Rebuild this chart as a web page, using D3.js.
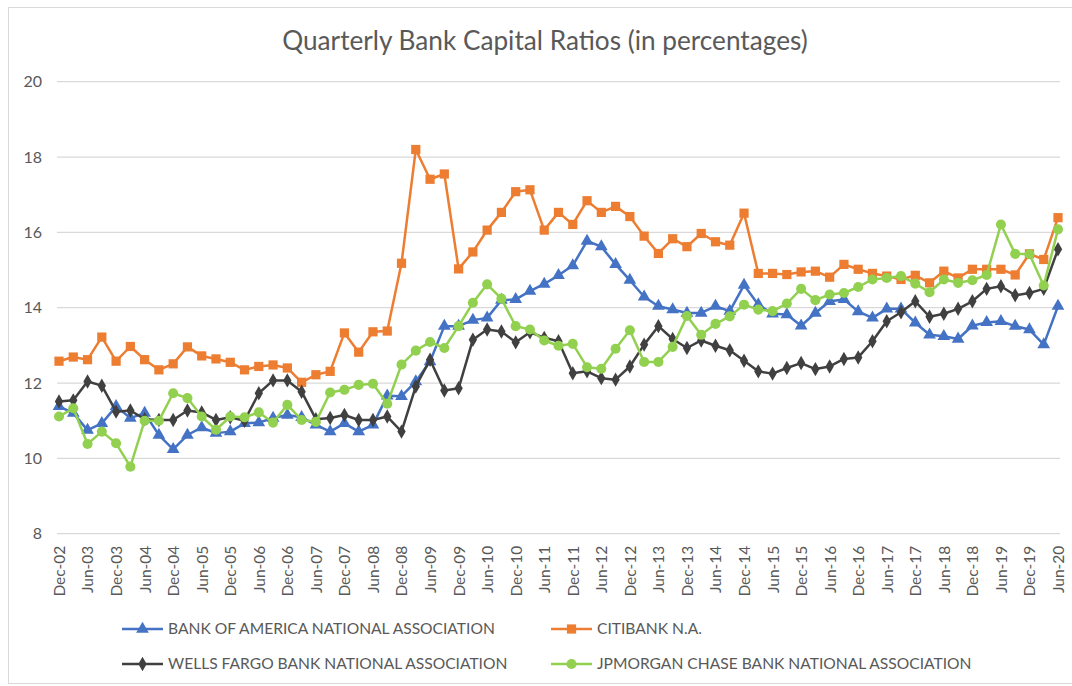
<!DOCTYPE html>
<html><head><meta charset="utf-8">
<script src="https://cdn.jsdelivr.net/npm/d3@7"></script>
<style>body{margin:0;background:#fff;} text{font-family:Lato,"Open Sans",sans-serif;fill:#595959;}</style>
</head><body>
<svg id="chart" width="1072" height="686"></svg>
<script>
const categories = ["Dec-02","Mar-03","Jun-03","Sep-03","Dec-03","Mar-04","Jun-04","Sep-04","Dec-04","Mar-05","Jun-05","Sep-05","Dec-05","Mar-06","Jun-06","Sep-06","Dec-06","Mar-07","Jun-07","Sep-07","Dec-07","Mar-08","Jun-08","Sep-08","Dec-08","Mar-09","Jun-09","Sep-09","Dec-09","Mar-10","Jun-10","Sep-10","Dec-10","Mar-11","Jun-11","Sep-11","Dec-11","Mar-12","Jun-12","Sep-12","Dec-12","Mar-13","Jun-13","Sep-13","Dec-13","Mar-14","Jun-14","Sep-14","Dec-14","Mar-15","Jun-15","Sep-15","Dec-15","Mar-16","Jun-16","Sep-16","Dec-16","Mar-17","Jun-17","Sep-17","Dec-17","Mar-18","Jun-18","Sep-18","Dec-18","Mar-19","Jun-19","Sep-19","Dec-19","Mar-20","Jun-20"];
const tickLabels = ["Dec-02","Jun-03","Dec-03","Jun-04","Dec-04","Jun-05","Dec-05","Jun-06","Dec-06","Jun-07","Dec-07","Jun-08","Dec-08","Jun-09","Dec-09","Jun-10","Dec-10","Jun-11","Dec-11","Jun-12","Dec-12","Jun-13","Dec-13","Jun-14","Dec-14","Jun-15","Dec-15","Jun-16","Dec-16","Jun-17","Dec-17","Jun-18","Dec-18","Jun-19","Dec-19","Jun-20"];
const yTicks = [8,10,12,14,16,18,20];
const seriesNames = ["BANK OF AMERICA NATIONAL ASSOCIATION","CITIBANK N.A.","WELLS FARGO BANK NATIONAL ASSOCIATION","JPMORGAN CHASE BANK NATIONAL ASSOCIATION"];
const bankOfAmerica = [11.38,11.2,10.75,10.93,11.38,11.07,11.2,10.62,10.24,10.62,10.82,10.67,10.71,10.93,10.95,11.07,11.15,11.09,10.89,10.71,10.93,10.71,10.89,11.66,11.65,12.04,12.57,13.51,13.51,13.67,13.73,14.2,14.22,14.44,14.63,14.86,15.12,15.77,15.62,15.15,14.73,14.29,14.04,13.95,13.86,13.86,14.04,13.91,14.6,14.08,13.84,13.82,13.52,13.86,14.17,14.22,13.9,13.73,13.97,13.97,13.6,13.28,13.24,13.17,13.52,13.61,13.64,13.51,13.42,13.02,14.04];
const citibank = [12.58,12.69,12.62,13.22,12.58,12.97,12.62,12.35,12.51,12.96,12.72,12.64,12.55,12.35,12.44,12.48,12.4,12.02,12.22,12.31,13.33,12.82,13.36,13.38,15.18,18.2,17.41,17.55,15.03,15.48,16.06,16.53,17.08,17.13,16.06,16.53,16.21,16.84,16.53,16.69,16.42,15.9,15.44,15.83,15.62,15.97,15.75,15.66,16.51,14.91,14.91,14.88,14.95,14.97,14.81,15.15,15.02,14.91,14.84,14.75,14.86,14.66,14.97,14.79,15.02,15.02,15.02,14.87,15.43,15.28,16.39];
const wellsFargo = [11.51,11.54,12.04,11.93,11.24,11.27,11.04,11.02,11.02,11.27,11.22,11.02,11.09,11.0,11.73,12.07,12.07,11.77,11.04,11.07,11.15,11.02,11.02,11.11,10.71,11.91,12.62,11.8,11.86,13.15,13.42,13.37,13.08,13.35,13.2,13.11,12.26,12.31,12.13,12.09,12.44,13.02,13.51,13.17,12.93,13.13,12.99,12.87,12.59,12.31,12.25,12.4,12.53,12.37,12.44,12.64,12.68,13.11,13.64,13.88,14.17,13.76,13.84,13.97,14.17,14.5,14.57,14.33,14.39,14.5,15.55];
const jpmorgan = [11.11,11.33,10.38,10.71,10.4,9.78,11.0,11.0,11.73,11.6,11.11,10.76,11.11,11.09,11.22,10.95,11.42,11.02,10.97,11.75,11.82,11.95,11.98,11.45,12.49,12.86,13.09,12.93,13.51,14.13,14.62,14.24,13.51,13.42,13.13,12.99,13.04,12.42,12.38,12.91,13.4,12.56,12.56,12.96,13.78,13.28,13.57,13.77,14.08,13.95,13.91,14.11,14.5,14.2,14.35,14.39,14.55,14.75,14.79,14.84,14.64,14.41,14.75,14.66,14.73,14.87,16.21,15.43,15.42,14.59,16.08];

const series = [
  {name: seriesNames[0], values: bankOfAmerica, color: "#4472C4", symbol: d3.symbolTriangle, size: 70},
  {name: seriesNames[1], values: citibank, color: "#ED7D31", symbol: d3.symbolSquare, size: 85},
  {name: seriesNames[2], values: wellsFargo, color: "#404040", symbol: d3.symbolDiamond, size: 60},
  {name: seriesNames[3], values: jpmorgan, color: "#92D050", symbol: d3.symbolCircle, size: 80}
];

const svg = d3.select("#chart");
// outer border
svg.append("rect").attr("x",8.5).attr("y",7.5).attr("width",1100).attr("height",676)
  .attr("fill","none").attr("stroke","#d9d9d9").attr("stroke-width",1);

const x = d3.scalePoint().domain(categories).range([59, 1058]);
const y = d3.scaleLinear().domain([8,20]).range([533.7, 81.7]);

function fitSize(sel, target){
  const w = sel.node().getComputedTextLength();
  const fs = parseFloat(sel.attr("font-size"));
  return fs * target / w;
}

// title
const title = svg.append("text").attr("x",545).attr("y",50).attr("text-anchor","middle")
  .attr("font-size",22).text("Quarterly Bank Capital Ratios (in percentages)");
title.attr("font-size", fitSize(title, 526));

// gridlines
svg.append("g").selectAll("line").data(yTicks).join("line")
  .attr("x1",57).attr("x2",1060).attr("y1",d=>y(d)).attr("y2",d=>y(d))
  .attr("stroke","#d9d9d9").attr("stroke-width",1.3);

// y axis labels
const yAxis = svg.append("g").attr("transform","translate(57,0)")
  .call(d3.axisLeft(y).tickValues(yTicks).tickSize(0).tickPadding(15));
yAxis.select(".domain").remove();
yAxis.selectAll("text").attr("font-size",16).attr("fill","#595959").style("font-family","Lato");

// x axis labels
const xAxis = svg.append("g").attr("transform","translate(0,533.7)")
  .call(d3.axisBottom(x).tickValues(tickLabels).tickSize(0));
xAxis.select(".domain").remove();
xAxis.selectAll("text").attr("font-size",15.5).attr("fill","#595959").style("font-family","Lato")
  .attr("text-anchor","end").attr("transform","rotate(-90)").attr("x",-12).attr("y",0).attr("dy","0.35em");

// lines + markers
const line = d3.line().x((d,i)=>x(categories[i])).y(d=>y(d));
series.forEach(s=>{
  const g = svg.append("g");
  g.append("path").datum(s.values).attr("d",line).attr("fill","none")
    .attr("stroke",s.color).attr("stroke-width",2.5).attr("stroke-linejoin","round");
  g.selectAll("path.m").data(s.values).join("path").attr("class","m")
    .attr("d", d3.symbol().type(s.symbol).size(s.size))
    .attr("transform",(d,i)=>`translate(${x(categories[i])},${y(d)})`)
    .attr("fill",s.color);
});

// legend
const legPos = [[122,629],[551,629],[122,664],[551,664]];
let legFont = 16;
series.forEach((s,k)=>{
  const [lx,ly] = legPos[k];
  const g = svg.append("g");
  g.append("line").attr("x1",lx).attr("x2",lx+41).attr("y1",ly).attr("y2",ly)
    .attr("stroke",s.color).attr("stroke-width",2.5);
  g.append("path").attr("d",d3.symbol().type(s.symbol).size(s.size))
    .attr("transform",`translate(${lx+20.5},${ly})`).attr("fill",s.color);
  const t = g.append("text").attr("class","leg").attr("x",lx+46).attr("y",ly).attr("dy","0.35em")
    .attr("font-size",16).text(s.name);
  if(k===0) legFont = fitSize(t, 327);
});
svg.selectAll("text.leg").attr("font-size",legFont);
</script>
</body></html>
